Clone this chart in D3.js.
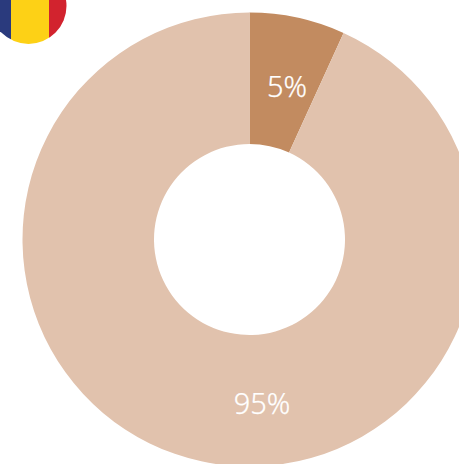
<!DOCTYPE html>
<html><head><meta charset="utf-8">
<script src="https://cdn.jsdelivr.net/npm/d3@7"></script>
<style>html,body{margin:0;padding:0;background:#fff;overflow:hidden}svg{display:block}</style>
</head><body><svg id="c" width="459" height="464"></svg>
<script>
const categories = ["A", "B"];
const shares = [6.8, 93.2];
const labels = ["5%", "95%"];
const colors = ["#c28b60", "#e1c2ad"];
const flagColors = ["#2a3a7d", "#fdd116", "#d2232e"];
const flagEdges = [-10, 11, 49, 67];

const svg = d3.select("#c");
const cx = 249.5, cy = 239.5, R = 227, r = 95.5;
const pie = d3.pie().sort(null).value((d, i) => shares[i]);
const arc = d3.arc().innerRadius(r).outerRadius(R);
const g = svg.append("g").attr("transform", `translate(${cx},${cy})`);
const arcs = pie(categories);
g.selectAll("path").data(arcs).join("path").attr("d", arc).attr("fill", (d, i) => colors[i]);

const labelPos = [[37.5, -143], [12.5, 174]];
g.selectAll("text").data(labels).join("text")
  .attr("x", (d, i) => labelPos[i][0]).attr("y", (d, i) => labelPos[i][1])
  .attr("text-anchor", "middle")
  .style("font-family", "'Noto Sans', 'Open Sans', sans-serif")
  .style("font-weight", 300)
  .style("font-size", "29px")
  .attr("fill", "#fff").attr("stroke", "#fff").attr("stroke-width", 0.25)
  .text(d => d);

const clip = svg.append("defs").append("clipPath").attr("id", "flag");
clip.append("circle").attr("cx", 28.5).attr("cy", 6).attr("r", 38);
svg.append("g").attr("clip-path", "url(#flag)").selectAll("rect").data(flagColors).join("rect")
  .attr("x", (d, i) => flagEdges[i]).attr("width", (d, i) => flagEdges[i + 1] - flagEdges[i])
  .attr("y", -40).attr("height", 90).attr("fill", d => d);
</script></body></html>
